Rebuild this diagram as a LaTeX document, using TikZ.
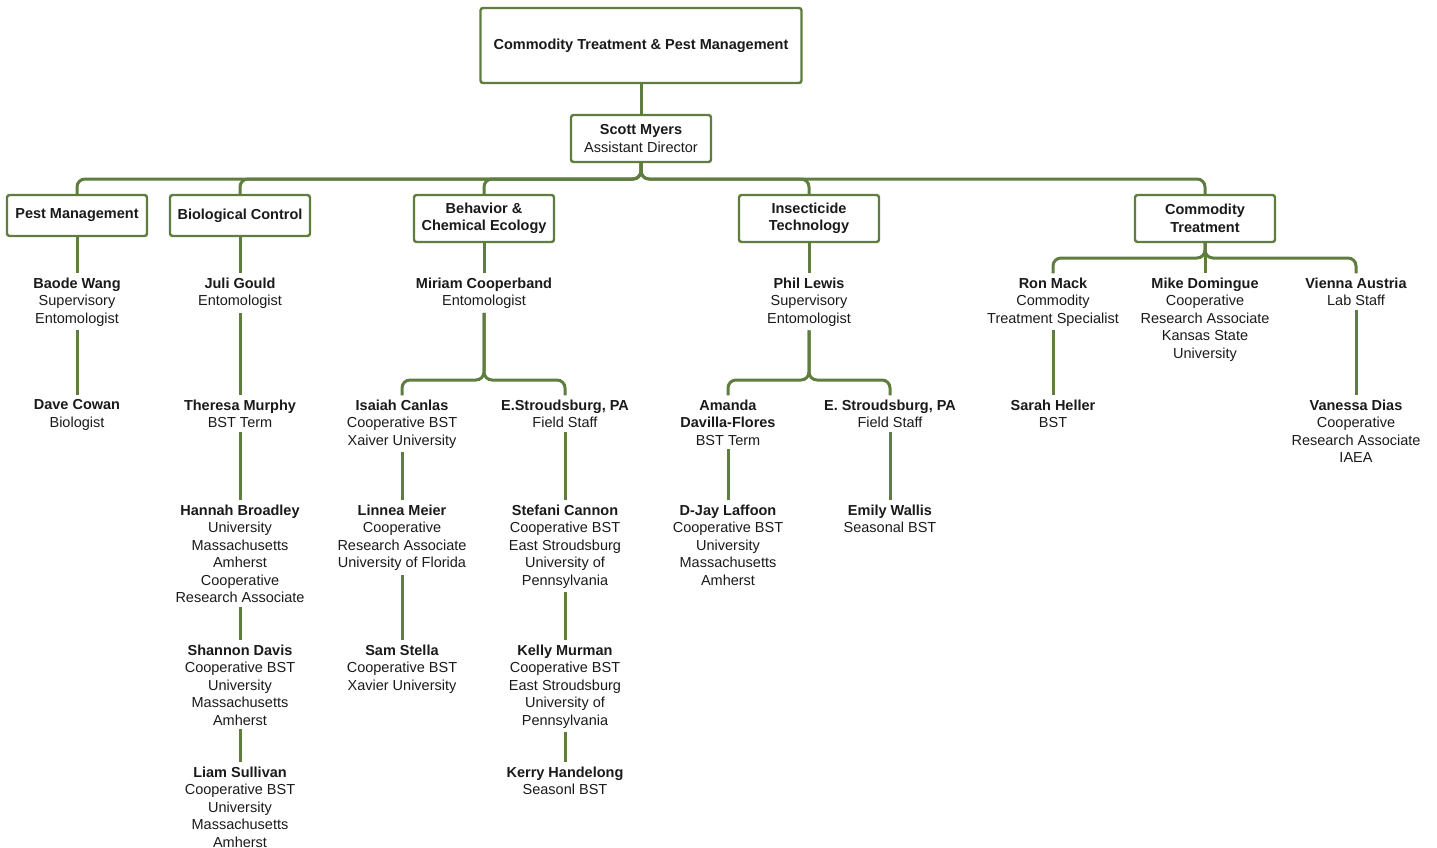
\documentclass[tikz,border=0pt]{standalone}
\usepackage{fontspec}
\setmainfont{Liberation Sans}
\definecolor{olive}{HTML}{5E7D3E}
\definecolor{ink}{HTML}{1A1A1A}
\begin{document}
\begin{tikzpicture}[x=1pt,y=-1pt,
  unit/.style={draw=olive,line width=2.4pt,rounded corners=2.5pt,fill=white,align=center,
    font=\fontsize{14.5}{17.5}\selectfont\bfseries,text=ink,minimum width=140pt,inner sep=3pt},
  person/.style={anchor=north,align=center,inner sep=4pt,font=\fontsize{14.5}{17.5}\selectfont,text=ink},
  conn/.style={draw=olive,line width=3pt,rounded corners=8pt}]
\useasboundingbox (0,0) rectangle (1437,848);
% units
\node[unit,minimum width=321pt,minimum height=75pt] (top) at (641,45.5) {Commodity Treatment \& Pest Management};
\node[unit,minimum height=47pt] (scott) at (641,138.5) {Scott Myers\\\mdseries Assistant Director};
\node[unit,minimum height=41pt] (pm) at (77,215.5) {Pest Management};
\node[unit,minimum height=41pt] (bc) at (240,215.5) {Biological Control};
\node[unit,minimum height=47pt] (bce) at (484,218.5) {Behavior \&\\Chemical Ecology};
\node[unit,minimum height=47pt] (it) at (809,218.5) {Insecticide\\Technology};
\node[unit,minimum height=47pt] (ct) at (1205,218.5) {Commodity\\Treatment};
% people
\node[person] (baode) at (77,273.4) {\textbf{Baode Wang}\\Supervisory\\Entomologist};
\node[person] (dave) at (77,395.4) {\textbf{Dave Cowan}\\Biologist};
\node[person] (juli) at (240,273.4) {\textbf{Juli Gould}\\Entomologist};
\node[person] (theresa) at (240,395.4) {\textbf{Theresa Murphy}\\BST Term};
\node[person] (hannah) at (240,500.4) {\textbf{Hannah Broadley}\\University\\Massachusetts\\Amherst\\Cooperative\\Research Associate};
\node[person] (shannon) at (240,640.4) {\textbf{Shannon Davis}\\Cooperative BST\\University\\Massachusetts\\Amherst};
\node[person] (liam) at (240,762.4) {\textbf{Liam Sullivan}\\Cooperative BST\\University\\Massachusetts\\Amherst};
\node[person] (miriam) at (484,273.4) {\textbf{Miriam Cooperband}\\Entomologist};
\node[person] (isaiah) at (402,395.4) {\textbf{Isaiah Canlas}\\Cooperative BST\\Xaiver University};
\node[person] (linnea) at (402,500.4) {\textbf{Linnea Meier}\\Cooperative\\Research Associate\\University of Florida};
\node[person] (sam) at (402,640.4) {\textbf{Sam Stella}\\Cooperative BST\\Xavier University};
\node[person] (es1) at (565,395.4) {\textbf{E.Stroudsburg, PA}\\Field Staff};
\node[person] (stefani) at (565,500.4) {\textbf{Stefani Cannon}\\Cooperative BST\\East Stroudsburg\\University of\\Pennsylvania};
\node[person] (kelly) at (565,640.4) {\textbf{Kelly Murman}\\Cooperative BST\\East Stroudsburg\\University of\\Pennsylvania};
\node[person] (kerry) at (565,762.4) {\textbf{Kerry Handelong}\\Seasonl BST};
\node[person] (phil) at (809,273.4) {\textbf{Phil Lewis}\\Supervisory\\Entomologist};
\node[person] (amanda) at (728,395.4) {\textbf{Amanda}\\\textbf{Davilla-Flores}\\BST Term};
\node[person] (djay) at (728,500.4) {\textbf{D-Jay Laffoon}\\Cooperative BST\\University\\Massachusetts\\Amherst};
\node[person] (es2) at (890,395.4) {\textbf{E. Stroudsburg, PA}\\Field Staff};
\node[person] (emily) at (890,500.4) {\textbf{Emily Wallis}\\Seasonal BST};
\node[person] (ron) at (1053,273.4) {\textbf{Ron Mack}\\Commodity\\Treatment Specialist};
\node[person] (sarah) at (1053,395.4) {\textbf{Sarah Heller}\\BST};
\node[person] (mike) at (1205,273.4) {\textbf{Mike Domingue}\\Cooperative\\Research Associate\\Kansas State\\University};
\node[person] (vienna) at (1356,273.4) {\textbf{Vienna Austria}\\Lab Staff};
\node[person] (vanessa) at (1356,395.4) {\textbf{Vanessa Dias}\\Cooperative\\Research Associate\\IAEA};
% bus coordinates
\coordinate (b0) at (641,179);
\coordinate (b1) at (484,380);
\coordinate (b2) at (809,380);
\coordinate (b3) at (1205,258);
% connectors
\draw[conn] (top) -- (scott);
\foreach \u in {pm,bc,bce,it,ct}
  \draw[conn] (scott.south) -- (b0) -| (\u.north);
\draw[conn] (pm) -- (baode);
\draw[conn] (baode) -- (dave);
\draw[conn] (bc) -- (juli);
\draw[conn] (juli) -- (theresa);
\draw[conn] (theresa) -- (hannah);
\draw[conn] (hannah) -- (shannon);
\draw[conn] (shannon) -- (liam);
\draw[conn] (bce) -- (miriam);
\draw[conn] (miriam.south) -- (b1) -| (isaiah.north);
\draw[conn] (miriam.south) -- (b1) -| (es1.north);
\draw[conn] (isaiah) -- (linnea);
\draw[conn] (linnea) -- (sam);
\draw[conn] (es1) -- (stefani);
\draw[conn] (stefani) -- (kelly);
\draw[conn] (kelly) -- (kerry);
\draw[conn] (it) -- (phil);
\draw[conn] (phil.south) -- (b2) -| (amanda.north);
\draw[conn] (phil.south) -- (b2) -| (es2.north);
\draw[conn] (amanda) -- (djay);
\draw[conn] (es2) -- (emily);
\draw[conn] (ct.south) -- (b3) -| (ron.north);
\draw[conn] (ct.south) -- (mike.north);
\draw[conn] (ct.south) -- (b3) -| (vienna.north);
\draw[conn] (ron) -- (sarah);
\draw[conn] (vienna) -- (vanessa);
\end{tikzpicture}
\end{document}
